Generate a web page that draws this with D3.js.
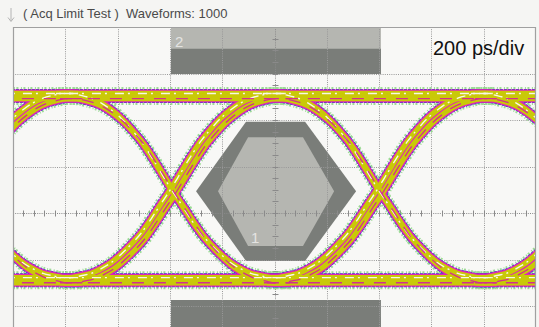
<!DOCTYPE html>
<html>
<head>
<meta charset="utf-8">
<script src="https://cdn.jsdelivr.net/npm/d3@7"></script>
<style>
  html, body { margin: 0; padding: 0; background: #f5f5f3; }
  svg { display: block; }
</style>
</head>
<body>
<svg id="scope" width="539" height="327"></svg>
<script>
// ---- Screen setup: 200 ps/div horizontally (10 div), 8 vertical divisions ----
const timeDomainPs = [-1000, 1000];
const vertDomainDiv = [-4, 4];
const timeGridPs = [-800, -600, -400, -200, 0, 200, 400, 600, 800];
const vertGridDiv = [-3, -2, -1, 0, 1, 2, 3];
const headerText = "( Acq Limit Test )  Waveforms: 1000";
const scaleText = "200 ps/div";

// ---- Eye diagram: logic levels, crossing instants and edge shapes ----
const highRailDiv = 2.52;
const lowRailDiv = -1.44;
const crossingTimesPs = [-1183, -388, 403, 1199];
// rising edge, [time from crossing (ps), level (div)]
const risingEdge = [
  [-440, -1.44], [-382, -1.44], [-344, -1.40], [-306, -1.35], [-268, -1.25],
  [-229, -1.12], [-191, -0.94], [-153, -0.73], [-115, -0.49], [-76, -0.18],
  [-38, 0.15], [0, 0.47], [38, 0.82], [76, 1.17], [115, 1.50], [153, 1.76],
  [191, 1.99], [229, 2.17], [268, 2.32], [306, 2.42], [344, 2.48], [382, 2.52],
  [440, 2.52]
];
// falling edge, [time from crossing (ps), level (div)]
const fallingEdge = [
  [-440, 2.52], [-382, 2.52], [-344, 2.48], [-306, 2.42], [-268, 2.32],
  [-229, 2.17], [-191, 1.99], [-153, 1.76], [-115, 1.50], [-76, 1.17],
  [-38, 0.82], [0, 0.47], [38, 0.15], [76, -0.18], [115, -0.49], [153, -0.73],
  [191, -0.94], [229, -1.12], [268, -1.25], [306, -1.35], [344, -1.40],
  [382, -1.44], [440, -1.44]
];
// spread between the accumulated waveform tracks (time, level)
const trackSpread = [{ dt: -8, dv: 0.05 }, { dt: 8, dv: -0.06 }];

// ---- Mask regions (ps, div) ----
const maskTopMargin = [[-396, 4], [407, 4], [407, 2.99], [-396, 2.99]];
const maskTop = [[-396, 3.53], [407, 3.53], [407, 2.99], [-396, 2.99]];
const maskBottom = [[-396, -1.87], [407, -1.87], [407, -4], [-396, -4]];
const maskBottomMargin = [[-396, -2.24], [407, -2.24], [407, -4], [-396, -4]];
const maskCenter = [[-109, 1.96], [117, 1.96], [312, 0.47], [117, -1.03], [-109, -1.03], [-300, 0.47]];
const maskCenterMargin = [[-101, 1.63], [109, 1.63], [228, 0.47], [109, -0.71], [-101, -0.71], [-216, 0.47]];

const svg = d3.select("#scope");
const x = d3.scaleLinear().domain(timeDomainPs).range([13, 536]);
const y = d3.scaleLinear().domain(vertDomainDiv).range([399, 27]);

const x0 = x(timeDomainPs[0]), x1 = x(timeDomainPs[1]);
const y0 = y(vertDomainDiv[1]), y1 = y(vertDomainDiv[0]);

svg.append("defs").append("clipPath").attr("id", "plotClip")
  .append("rect").attr("x", x0).attr("y", y0).attr("width", x1 - x0).attr("height", y1 - y0);

// plot background
svg.append("rect").attr("x", x0).attr("y", y0).attr("width", x1 - x0).attr("height", y1 - y0)
  .attr("fill", "#f8f8f6");

// header
svg.append("path")
  .attr("d", "M11,8 V21 M8,17.5 L11,21.5 L14,17.5")
  .attr("fill", "none").attr("stroke", "#b4b4b4").attr("stroke-width", 1);
svg.append("text").attr("x", 23).attr("y", 18)
  .attr("font-family", "Liberation Sans, Arial, sans-serif").attr("font-size", 13)
  .attr("fill", "#4a4a4a").attr("xml:space", "preserve").text(headerText);

const plot = svg.append("g").attr("clip-path", "url(#plotClip)");
const poly = d3.line().x(d => x(d[0])).y(d => y(d[1]));
const polyClosed = pts => poly(pts) + "Z";

// masks
const lightGray = "#b5b6b1", darkGray = "#7a7d79";
plot.append("path").attr("d", polyClosed(maskTopMargin)).attr("fill", lightGray);
plot.append("path").attr("d", polyClosed(maskTop)).attr("fill", darkGray);
plot.append("path").attr("d", polyClosed(maskBottomMargin)).attr("fill", lightGray);
plot.append("path").attr("d", polyClosed(maskBottom)).attr("fill", darkGray);
plot.append("path").attr("d", polyClosed(maskCenter)).attr("fill", darkGray);
plot.append("path").attr("d", polyClosed(maskCenterMargin)).attr("fill", lightGray);

// graticule
const grid = plot.append("g").attr("stroke", "#999999").attr("stroke-width", 1)
  .attr("stroke-dasharray", "1,1.2");
grid.selectAll("line.v").data(timeGridPs.filter(t => t !== 0)).join("line")
  .attr("x1", d => Math.round(x(d)) + 0.5).attr("x2", d => Math.round(x(d)) + 0.5)
  .attr("y1", y0).attr("y2", y1);
grid.selectAll("line.h").data(vertGridDiv.filter(v => v !== 0)).join("line")
  .attr("y1", d => Math.round(y(d)) + 0.5).attr("y2", d => Math.round(y(d)) + 0.5)
  .attr("x1", x0).attr("x2", x1);

// centre axes with minor ticks
const axisG = plot.append("g").attr("stroke", "#8a8a8a").attr("stroke-width", 1);
const cx = Math.round(x(0)) + 0.5, cy = Math.round(y(0)) + 0.5;
axisG.append("line").attr("x1", cx).attr("x2", cx).attr("y1", y0).attr("y2", y1)
  .attr("stroke-dasharray", "1,1.2");
axisG.append("line").attr("y1", cy).attr("y2", cy).attr("x1", x0).attr("x2", x1)
  .attr("stroke-dasharray", "1,1.2");
const minorTime = d3.range(timeDomainPs[0], timeDomainPs[1] + 1, 40);
const minorVert = d3.range(vertDomainDiv[0], vertDomainDiv[1] + 0.01, 0.25);
axisG.selectAll("line.mt").data(minorTime).join("line")
  .attr("x1", d => Math.round(x(d)) + 0.5).attr("x2", d => Math.round(x(d)) + 0.5)
  .attr("y1", cy - 3).attr("y2", cy + 3);
axisG.selectAll("line.mv").data(minorVert).join("line")
  .attr("y1", d => Math.round(y(d)) + 0.5).attr("y2", d => Math.round(y(d)) + 0.5)
  .attr("x1", cx - 3).attr("x2", cx + 3);

// mask numbers
plot.append("text").attr("x", x(maskTop[0][0]) + 4).attr("y", y(maskTopMargin[0][1]) + 20)
  .attr("font-family", "Liberation Sans, Arial, sans-serif").attr("font-size", 15)
  .attr("fill", "#e4e4e2").text("2");
plot.append("text").attr("x", x(maskCenterMargin[4][0]) + 3).attr("y", y(maskCenterMargin[4][1]) - 3)
  .attr("font-family", "Liberation Sans, Arial, sans-serif").attr("font-size", 15)
  .attr("fill", "#e4e4e2").text("1");

// ---- waveform traces ----
const traces = [];
trackSpread.forEach((tr, ti) => {
  traces.push({ track: ti, pts: [[timeDomainPs[0] - 50, highRailDiv + tr.dv], [timeDomainPs[1] + 50, highRailDiv + tr.dv]] });
  traces.push({ track: ti, pts: [[timeDomainPs[0] - 50, lowRailDiv + tr.dv], [timeDomainPs[1] + 50, lowRailDiv + tr.dv]] });
  crossingTimesPs.forEach(c => {
    [risingEdge, fallingEdge].forEach(edge => {
      traces.push({ track: ti, pts: edge.map(([dt, v]) => [c + dt + tr.dt, v + tr.dv]) });
    });
  });
});

const curve = d3.line().x(d => x(d[0])).y(d => y(d[1])).curve(d3.curveMonotoneX);
const layers = [
  { color: "#86d47e", width: 13, dash: "1,1.5,2,2.5", opacity: 0.8 },
  { color: "#3030d8", width: 9, dash: "3,1", opacity: 1 },
  { color: "#e024b8", width: 8, dash: null, opacity: 1 },
  { color: "#c9c908", width: 5.4, dash: null, opacity: 1 }
];
const traceG = plot.append("g").attr("fill", "none").attr("stroke-linecap", "butt");
layers.forEach(L => {
  traceG.append("g")
    .attr("stroke", L.color).attr("stroke-width", L.width)
    .attr("stroke-dasharray", L.dash).attr("opacity", L.opacity)
    .selectAll("path").data(traces).join("path").attr("d", d => curve(d.pts));
});
// bright cores and dense streaks of the persistence display
traceG.append("g").attr("stroke", "#ffffff").attr("stroke-width", 1.4)
  .attr("stroke-dasharray", "9,4,2,8").attr("opacity", 0.9)
  .selectAll("path").data(traces.filter(d => d.track === 0)).join("path")
  .attr("d", d => curve(d.pts));
traceG.append("g").attr("stroke", "#d6209c").attr("stroke-width", 1.3)
  .attr("stroke-dasharray", "12,10").attr("opacity", 0.9)
  .selectAll("path").data(traces.filter(d => d.track === 1)).join("path")
  .attr("d", d => curve(d.pts));

// frame
svg.append("path")
  .attr("d", `M${x0 + 0.5},${y1} V${y0 + 0.5} H${x1 - 0.5} V${y1}`)
  .attr("fill", "none").attr("stroke", "#a0a0a0").attr("stroke-width", 1.2);

// horizontal scale readout
svg.append("text").attr("x", 433).attr("y", 55)
  .attr("font-family", "Liberation Sans, Arial, sans-serif").attr("font-size", 20)
  .attr("fill", "#111").text(scaleText);
</script>
</body>
</html>
